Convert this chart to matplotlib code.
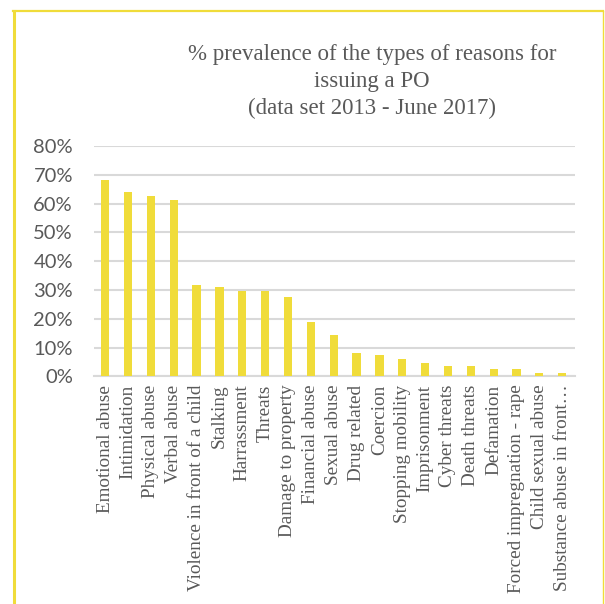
import matplotlib
matplotlib.use('Agg')
import matplotlib.pyplot as plt
from matplotlib.lines import Line2D
from matplotlib.ticker import PercentFormatter

reasons = ['Emotional abuse', 'Intimidation', 'Physical abuse', 'Verbal abuse',
           'Violence in front of a child', 'Stalking', 'Harrassment', 'Threats',
           'Damage to property', 'Financial abuse', 'Sexual abuse', 'Drug related',
           'Coercion', 'Stopping mobility', 'Imprisonment', 'Cyber threats',
           'Death threats', 'Defamation', 'Forced impregnation - rape',
           'Child sexual abuse', 'Substance abuse in front\u2026']
prevalence = [68.4, 64.0, 62.6, 61.3, 31.9, 31.0, 29.6, 29.6, 27.5, 18.9, 14.5,
              8.2, 7.3, 6.0, 4.7, 3.7, 3.7, 2.4, 2.4, 1.1, 1.0]
yticks = [0, 10, 20, 30, 40, 50, 60, 70, 80]

plt.rcParams['font.family'] = ['Liberation Serif', 'DejaVu Serif']
txt = '#595959'
yellow = '#F0DC3A'

fig = plt.figure(figsize=(6.05, 6.04), dpi=100)
ax = fig.add_axes([0.155, 0.377, 0.795, 0.381])

x = range(len(reasons))
ax.bar(x, prevalence, width=0.36, color=yellow, zorder=3)

ax.set_ylim(0, 80)
ax.set_xlim(-0.5, 20.55)
ax.set_yticks(yticks)
ax.yaxis.set_major_formatter(PercentFormatter(decimals=0))
ax.grid(axis='y', color='#D9D9D9', linewidth=1.5, zorder=0)
ax.set_xticks(list(x))
ax.set_xticklabels(reasons, rotation=90, fontsize=13.8, color=txt)
for lab in ax.get_yticklabels():
    lab.set_family(['Lato', 'DejaVu Sans'])
ax.tick_params(axis='y', labelsize=14.5, colors=txt, length=0, pad=15)
ax.tick_params(axis='x', length=0, pad=6)
for s in ['top', 'right', 'left']:
    ax.spines[s].set_visible(False)
ax.spines['bottom'].set_color('#D9D9D9')
ax.spines['bottom'].set_linewidth(1.5)

fig.text(0.615, 0.927, '% prevalence of the types of reasons for\nissuing a PO\n(data set 2013 - June 2017)',
         ha='center', va='top', fontsize=16.5, color=txt, linespacing=1.36)

# yellow frame: left, top, right (open at bottom)
W, H = 605, 604
fig.add_artist(Line2D([14 / W, 14 / W], [0, 1 - 11 / H], transform=fig.transFigure,
                      color=yellow, linewidth=2.2))
fig.add_artist(Line2D([13 / W, 603 / W], [1 - 11 / H, 1 - 11 / H], transform=fig.transFigure,
                      color=yellow, linewidth=1.6))
fig.add_artist(Line2D([603 / W, 603 / W], [0, 1 - 11 / H], transform=fig.transFigure,
                      color=yellow, linewidth=1.0))

plt.savefig('out.png', dpi=100)
